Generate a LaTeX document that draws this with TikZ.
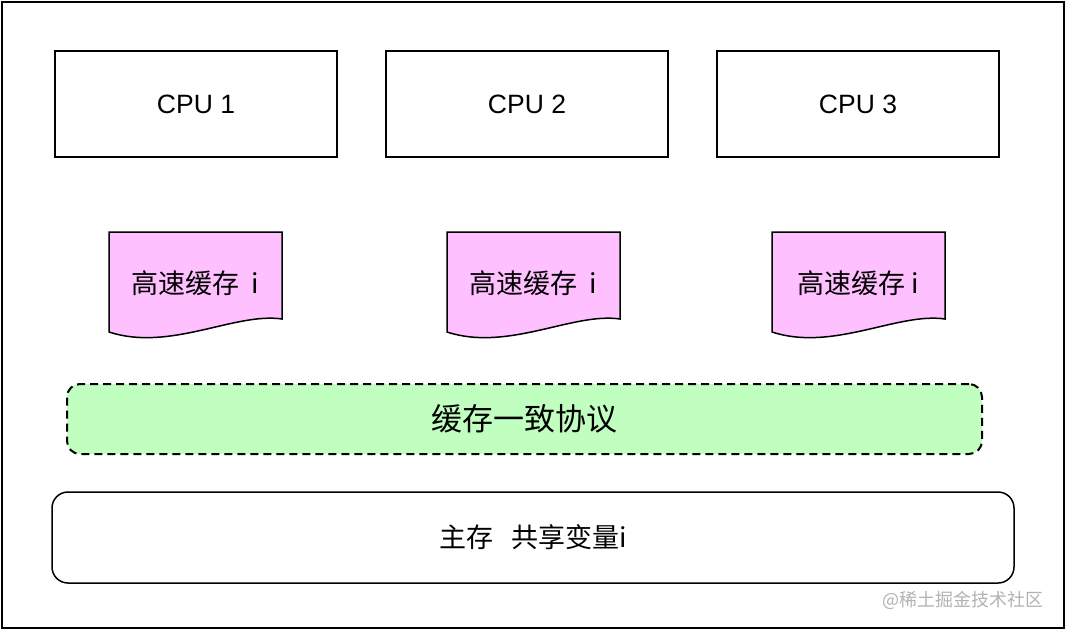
\documentclass[tikz,border=0pt]{standalone}
\usepackage{fontspec}
\setmainfont{Liberation Sans}
\newfontfamily\cjk{Noto Sans CJK SC}
\usepackage{tikz}
\usetikzlibrary{positioning}

\definecolor{cachepink}{RGB}{255,192,255}
\definecolor{protogreen}{RGB}{192,255,192}
\definecolor{markgray}{RGB}{178,178,178}

\tikzset{
  cpubox/.style={draw, line width=1.5pt, minimum width=282pt, minimum height=106pt,
    font=\fontsize{26.5}{30}\selectfont},
  cacheshape/.style={draw, line width=1.5pt, fill=cachepink},
  cachetext/.style={font=\cjk\fontsize{27}{30}\selectfont},
  protobox/.style={draw, line width=2pt, dash pattern=on 8pt off 5pt, fill=protogreen,
    rounded corners=13pt, minimum width=915pt, minimum height=70pt},
  membox/.style={draw, line width=1.5pt, rounded corners=16pt,
    minimum width=962pt, minimum height=91pt},
}

\begin{document}
\begin{tikzpicture}[x=1pt, y=-1pt]
  \useasboundingbox (0,0) rectangle (1066,630);
  % ==================== 外框 ====================
  \draw[line width=2pt] (2,2) rectangle (1064,628);

  % ==================== CPU ====================
  \node[cpubox] (cpu1) at (196,104) {CPU 1};
  \node[cpubox] (cpu2) at (527,104) {CPU 2};
  \node[cpubox] (cpu3) at (858,104) {CPU 3};

  % ==================== 高速缓存 ====================
  \begin{scope}[shift={(109,232)}]
    \draw[cacheshape] (0,0) -- (173,0) -- (173,87)
      .. controls (126,80) and (61,120) .. (0,100) -- cycle;
    \node[cachetext] (cache1) at (86,51) {高速缓存\ \ i};
  \end{scope}

  \begin{scope}[shift={(447,232)}]
    \draw[cacheshape] (0,0) -- (173,0) -- (173,87)
      .. controls (126,80) and (61,120) .. (0,100) -- cycle;
    \node[cachetext] (cache2) at (86,51) {高速缓存\ \ i};
  \end{scope}

  \begin{scope}[shift={(772,232)}]
    \draw[cacheshape] (0,0) -- (173,0) -- (173,87)
      .. controls (126,80) and (61,120) .. (0,100) -- cycle;
    \node[cachetext] (cache3) at (86,51) {高速缓存 i};
  \end{scope}

  % ==================== 缓存一致协议 ====================
  \node[protobox] (proto) at (524.5,419) {};
  \node[font=\cjk\fontsize{31}{36}\selectfont] (protolabel) at (524,419) {缓存一致协议};

  % ==================== 主存 ====================
  \node[membox, font=\cjk\fontsize{27}{30}\selectfont] (mem) at (533,537.5) {主存\ \ \ 共享变量i};

  % 水印
  \node[anchor=east, text=markgray, font=\cjk\fontsize{18}{20}\selectfont] (mark) at (1047,600) {@稀土掘金技术社区};
\end{tikzpicture}
\end{document}
